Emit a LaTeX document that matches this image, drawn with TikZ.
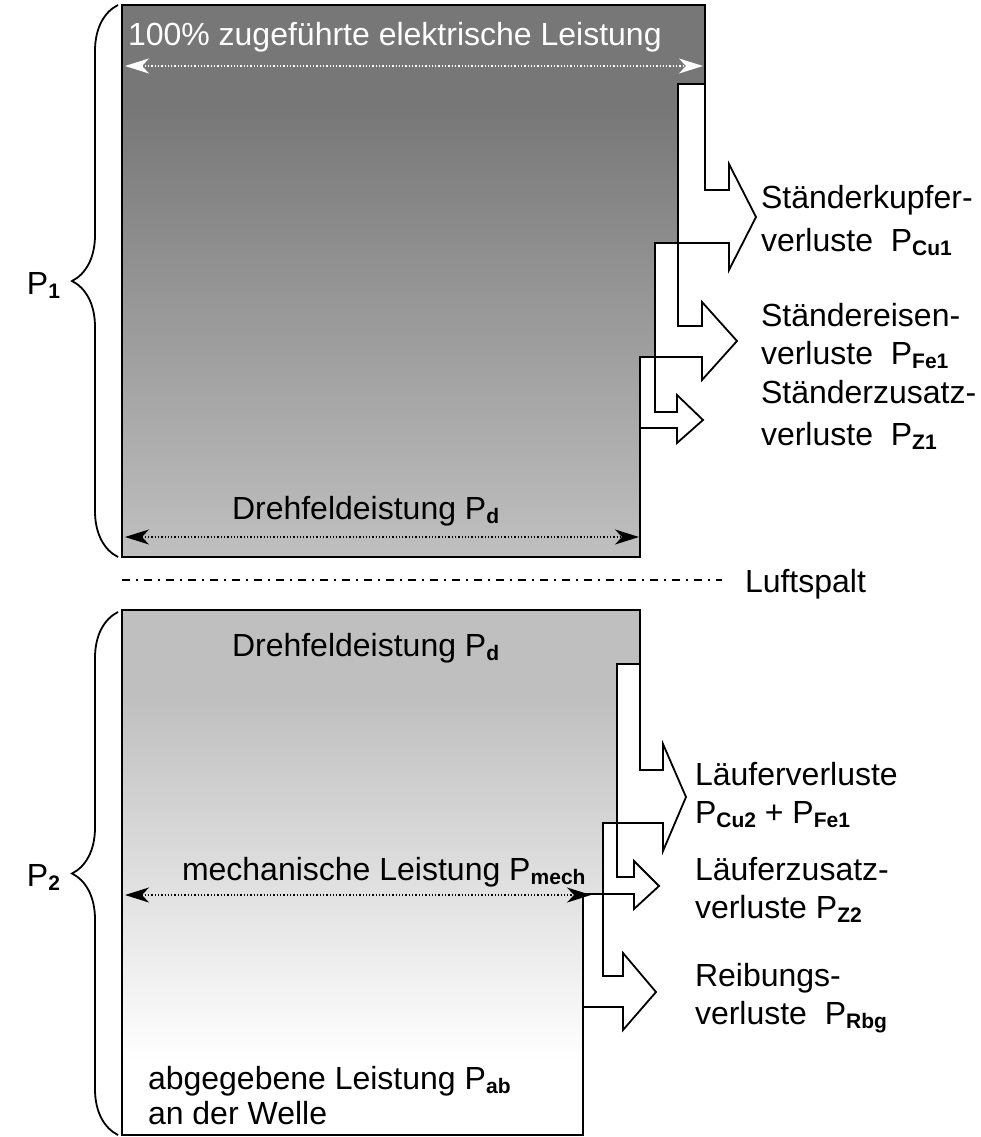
\documentclass[tikz,border=0pt]{standalone}
\usepackage{fontspec}
\setmainfont{Liberation Sans}
\usetikzlibrary{arrows.meta,decorations.pathreplacing}

\definecolor{statorTop}{HTML}{777777}
\definecolor{statorBottom}{HTML}{C0C0C0}
\definecolor{rotorTop}{HTML}{BFBFBF}
\definecolor{rotorBottom}{HTML}{FFFFFF}

% stator part: dark on top, lighter towards the air gap
\pgfdeclareverticalshading{statorshade}{100bp}{color(0bp)=(statorBottom); color(25bp)=(statorBottom); color(66bp)=(statorTop); color(100bp)=(statorTop)}
% rotor part: light grey fading to white at the shaft
\pgfdeclareverticalshading{rotorshade}{100bp}{color(0bp)=(rotorBottom); color(32bp)=(rotorBottom); color(67bp)=(rotorTop); color(100bp)=(rotorTop)}

% bold, lowered index of a power symbol
\newcommand{\idx}[1]{\raisebox{-4pt}{\fontsize{21}{21}\selectfont\bfseries #1}}

\begin{document}
\begin{tikzpicture}[x=1pt,y=-1pt,
  every node/.style={inner sep=0pt, outer sep=0pt, font=\fontsize{32}{38}\selectfont},
  lbl/.style={anchor=base west},
  outline/.style={draw=black, line width=1.8pt, line join=miter},
  lossarrow/.style={outline, fill=white},
  flowline/.style={dotted, line width=1.3pt,
    {Stealth[length=24pt,width=15pt,inset=7pt]}-{Stealth[length=24pt,width=15pt,inset=7pt]}},
  powerbrace/.style={draw, line width=1.8pt, decorate, decoration={brace, amplitude=46pt}},
  airgap/.style={line width=1.5pt, dash pattern=on 8pt off 6pt on 2pt off 6pt}
]
\useasboundingbox (0,0) rectangle (980,1137);

% ---- stator power block ----
\shadedraw[outline, shading=statorshade]
  (122,5) -- (705,5) -- (705,84) -- (678,84) -- (678,243) -- (655,243)
  -- (655,357) -- (640,357) -- (640,557) -- (122,557) -- cycle;

% stator losses
\path[lossarrow] (678,84) -- (705,84) -- (705,190) -- (729,190) -- (729,164)
  -- (756,217) -- (729,270) -- (729,243) -- (678,243) -- cycle;
\path[lossarrow] (655,243) -- (678,243) -- (678,326) -- (702,326) -- (702,302)
  -- (737,341) -- (702,380) -- (702,357) -- (655,357) -- cycle;
\path[lossarrow] (640,357) -- (655,357) -- (655,412) -- (677,412) -- (677,395)
  -- (703,420) -- (677,443) -- (677,428) -- (640,428) -- cycle;

% ---- rotor power block ----
\shadedraw[outline, shading=rotorshade]
  (122,610) -- (640,610) -- (640,664) -- (617,664) -- (617,823) -- (603,823)
  -- (603,894) -- (583,894) -- (583,1135) -- (122,1135) -- cycle;

% rotor losses
\path[lossarrow] (617,664) -- (640,664) -- (640,770) -- (663,770) -- (663,744)
  -- (686,797) -- (663,851) -- (663,823) -- (617,823) -- cycle;
\path[lossarrow] (603,823) -- (617,823) -- (617,877) -- (634,877) -- (634,861)
  -- (659,886) -- (634,909) -- (634,894) -- (603,894) -- cycle;
\path[lossarrow] (583,894) -- (603,894) -- (603,976) -- (623,976) -- (623,953)
  -- (656,992) -- (623,1030) -- (623,1007) -- (583,1007) -- cycle;

% ---- width arrows ----
\coordinate (inL) at (125,66);   \coordinate (inR) at (703,66);
\coordinate (pdL) at (125,537);  \coordinate (pdR) at (639,537);
\coordinate (meL) at (125,895);  \coordinate (meR) at (591,895);
\draw[flowline, white] (inL) -- (inR);
\draw[flowline] (pdL) -- (pdR);
\draw[flowline] (meL) -- (meR);

% ---- air gap ----
\coordinate (gapL) at (122,580); \coordinate (gapR) at (722,580);
\draw[airgap] (gapL) -- (gapR);
\node[lbl] (gaptxt) at (745,592) {Luftspalt};

% ---- braces ----
\coordinate (b1s) at (118,557); \coordinate (b1e) at (118,5);
\coordinate (b2s) at (118,1135); \coordinate (b2e) at (118,612);
\draw[powerbrace] (b1s) -- (b1e);
\draw[powerbrace] (b2s) -- (b2e);
\node[lbl] (p1) at (27,294) {P\idx{1}};
\node[lbl] (p2) at (27,886) {P\idx{2}};

% ---- labels inside the blocks ----
\node[lbl, text=white] (intxt) at (128,46) {100\% zugeführte elektrische Leistung};
\node[lbl] (pdtxt1) at (232,519) {Drehfeldeistung P\idx{d}};
\node[lbl] (pdtxt2) at (232,656) {Drehfeldeistung P\idx{d}};
\node[lbl] (mechtxt) at (182,880) {mechanische Leistung P\idx{mech}};
\node[lbl] (abtxt1) at (148,1089) {abgegebene Leistung P\idx{ab}};
\node[lbl] (abtxt2) at (148,1124) {an der Welle};

% ---- loss labels ----
\node[lbl] (cu1a) at (761,208) {Ständerkupfer-};
\node[lbl] (cu1b) at (761,251) {verluste\ \ P\idx{Cu1}};
\node[lbl] (fe1a) at (761,326) {Ständereisen-};
\node[lbl] (fe1b) at (761,364) {verluste\ \ P\idx{Fe1}};
\node[lbl] (z1a) at (761,403) {Ständerzusatz-};
\node[lbl] (z1b) at (761,445) {verluste\ \ P\idx{Z1}};
\node[lbl] (la) at (695,785) {Läuferverluste};
\node[lbl] (lb) at (695,823) {P\idx{Cu2} + P\idx{Fe1}};
\node[lbl] (z2a) at (695,880) {Läuferzusatz-};
\node[lbl] (z2b) at (695,918) {verluste P\idx{Z2}};
\node[lbl] (ra) at (695,986) {Reibungs-};
\node[lbl] (rb) at (695,1024) {verluste\ \ P\idx{Rbg}};
\end{tikzpicture}
\end{document}
